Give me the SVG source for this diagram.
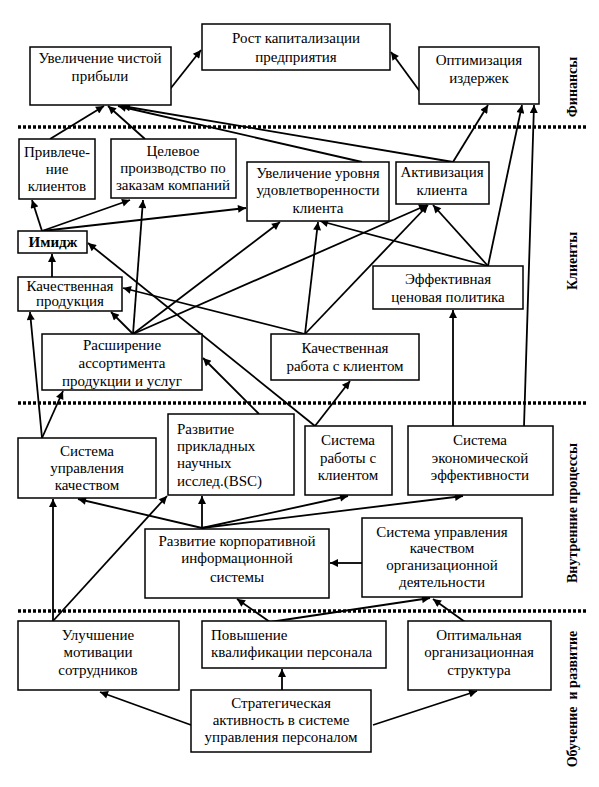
<svg xmlns="http://www.w3.org/2000/svg" width="599" height="787" viewBox="0 0 599 787">
<style>
.b{fill:#fff;stroke:#000;stroke-width:1.5}
.t{font-family:"Liberation Serif","Times New Roman",serif;font-size:15px;fill:#000;text-anchor:middle}
.l{text-anchor:start}
.side{font-family:"Liberation Serif","Times New Roman",serif;font-size:14px;font-weight:bold;fill:#000;text-anchor:middle}
.c line{stroke:#000;stroke-width:1.8;marker-end:url(#a)}
.c line.n{marker-end:none}
.d{stroke:#000;stroke-width:3.5;stroke-dasharray:3,2}
</style>
<defs>
<marker id="a" viewBox="0 0 10 10" refX="10" refY="5" markerWidth="10" markerHeight="8" orient="auto" markerUnits="userSpaceOnUse"><path d="M0,0 L10,5 L0,10 z" fill="#000"/></marker>
</defs>
<rect width="599" height="787" fill="#fff"/>
<g id="separators">
<line class="d" x1="18" y1="127" x2="588" y2="127"/>
<line class="d" x1="18" y1="403" x2="588" y2="403"/>
<line class="d" x1="18" y1="611" x2="588" y2="611"/>
</g>
<g id="labels">
<text class="side" transform="translate(577,87) rotate(-90)">Финансы</text>
<text class="side" transform="translate(577,261) rotate(-90)">Клиенты</text>
<text class="side" transform="translate(577,513) rotate(-90)">Внутренние процессы</text>
<text class="side" transform="translate(577,699) rotate(-90)" xml:space="preserve">Обучение  и развитие</text>
</g>
<g id="connectors" class="c">
<line x1="167" y1="93" x2="201" y2="50"/>
<line x1="421" y1="93" x2="391" y2="52"/>
<line x1="50" y1="139" x2="104" y2="106"/>
<line x1="145" y1="139" x2="108" y2="106"/>
<line x1="362" y1="162" x2="118" y2="106"/>
<line x1="453" y1="162" x2="122" y2="106"/>
<line x1="453" y1="162" x2="488" y2="105"/>
<line x1="488" y1="266" x2="522" y2="105"/>
<line x1="524" y1="426" x2="534" y2="105"/>
<line x1="42" y1="231" x2="32" y2="200"/>
<line x1="42" y1="231" x2="130" y2="200"/>
<line x1="42" y1="231" x2="246" y2="208"/>
<line x1="52" y1="277" x2="52" y2="254"/>
<line x1="133" y1="334" x2="111" y2="312"/>
<line x1="133" y1="334" x2="143" y2="200"/>
<line x1="133" y1="334" x2="280" y2="222"/>
<line x1="133" y1="334" x2="427" y2="205"/>
<line x1="305" y1="334" x2="123" y2="288"/>
<line x1="305" y1="334" x2="318" y2="222"/>
<line x1="305" y1="334" x2="428" y2="205"/>
<line x1="488" y1="266" x2="320" y2="221"/>
<line x1="488" y1="266" x2="433" y2="205"/>
<line x1="453" y1="426" x2="453" y2="310"/>
<line x1="315" y1="426" x2="88" y2="243"/>
<line x1="315" y1="426" x2="350" y2="381"/>
<line x1="259" y1="414" x2="203" y2="358"/>
<line x1="42" y1="438" x2="30" y2="312"/>
<line x1="42" y1="438" x2="63" y2="391"/>
<line x1="202" y1="528" x2="78" y2="499"/>
<line x1="202" y1="528" x2="202" y2="496"/>
<line x1="202" y1="528" x2="348" y2="496"/>
<line x1="202" y1="528" x2="463" y2="496"/>
<line x1="53" y1="621" x2="53" y2="499"/>
<line x1="53" y1="621" x2="167" y2="496"/>
<line x1="362" y1="563" x2="330" y2="563"/>
<line x1="270" y1="622" x2="237" y2="599"/>
<line x1="270" y1="622" x2="430" y2="598"/>
<line x1="465" y1="622" x2="433" y2="599"/>
<line x1="191" y1="725" x2="100" y2="692"/>
<line x1="282" y1="690" x2="282" y2="669"/>
<line x1="373" y1="725" x2="477" y2="691"/>
</g>
<g id="n_rost"><rect class="b" x="202" y="24" width="188" height="46"/><text class="t" x="296"><tspan x="296" y="43">Рост капитализации</tspan><tspan x="296" y="62">предприятия</tspan></text></g>
<g id="n_pribyl"><rect class="b" x="30" y="47" width="141" height="58"/><text class="t"><tspan x="100" y="63">Увеличение чистой</tspan><tspan x="100" y="81">прибыли</tspan></text></g>
<g id="n_izderzh"><rect class="b" x="419" y="47" width="120" height="57"/><text class="t"><tspan x="479" y="65">Оптимизация</tspan><tspan x="479" y="83">издержек</tspan></text></g>
<g id="n_privl"><rect class="b" x="19" y="139" width="76" height="60"/><text class="t"><tspan x="57" y="157">Привлече-</tspan><tspan x="57" y="174">ние</tspan><tspan x="57" y="191">клиентов</tspan></text></g>
<g id="n_celevoe"><rect class="b" x="111" y="139" width="125" height="59"/><text class="t"><tspan x="173" y="156">Целевое</tspan><tspan x="173" y="173">производство по</tspan><tspan x="173" y="190">заказам компаний</tspan></text></g>
<g id="n_udovl"><rect class="b" x="247" y="162" width="142" height="59"/><text class="t"><tspan x="318" y="178">Увеличение уровня</tspan><tspan x="318" y="195">удовлетворенности</tspan><tspan x="318" y="213">клиента</tspan></text></g>
<g id="n_aktiv"><rect class="b" x="396" y="162" width="93" height="42"/><text class="t"><tspan x="442" y="177">Активизация</tspan><tspan x="442" y="195">клиента</tspan></text></g>
<g id="n_imidzh"><rect class="b" x="18" y="231" width="69" height="22"/><text class="t" x="53" y="247" font-weight="bold">Имидж</text></g>
<g id="n_kachprod"><rect class="b" x="18" y="277" width="104" height="34"/><text class="t"><tspan x="70" y="291">Качественная</tspan><tspan x="70" y="306">продукция</tspan></text></g>
<g id="n_cenpol"><rect class="b" x="373" y="266" width="150" height="43"/><text class="t"><tspan x="448" y="284">Эффективная</tspan><tspan x="448" y="302">ценовая политика</tspan></text></g>
<g id="n_rassh"><rect class="b" x="42" y="334" width="160" height="56"/><text class="t"><tspan x="122" y="350">Расширение</tspan><tspan x="122" y="368">ассортимента</tspan><tspan x="122" y="386">продукции и услуг</tspan></text></g>
<g id="n_kachrab"><rect class="b" x="271" y="334" width="148" height="46"/><text class="t"><tspan x="345" y="353">Качественная</tspan><tspan x="345" y="371">работа с клиентом</tspan></text></g>
<g id="n_sukach"><rect class="b" x="18" y="438" width="138" height="60"/><text class="t"><tspan x="87" y="456">Система</tspan><tspan x="87" y="473">управления</tspan><tspan x="87" y="490">качеством</tspan></text></g>
<g id="n_razvpr"><rect class="b" x="168" y="414" width="126" height="81"/><text class="t l"><tspan x="177" y="434">Развитие</tspan><tspan x="177" y="451">прикладных</tspan><tspan x="177" y="468">научных</tspan><tspan x="177" y="486">исслед.(BSC)</tspan></text></g>
<g id="n_sisrab"><rect class="b" x="305" y="426" width="87" height="69"/><text class="t"><tspan x="348" y="445">Система</tspan><tspan x="348" y="463">работы с</tspan><tspan x="348" y="480">клиентом</tspan></text></g>
<g id="n_ekon"><rect class="b" x="408" y="426" width="145" height="69"/><text class="t"><tspan x="480" y="445">Система</tspan><tspan x="480" y="463">экономической</tspan><tspan x="480" y="480">эффективности</tspan></text></g>
<g id="n_korp"><rect class="b" x="145" y="529" width="184" height="69"/><text class="t"><tspan x="237" y="546">Развитие корпоративной</tspan><tspan x="237" y="563">информационной</tspan><tspan x="237" y="582">системы</tspan></text></g>
<g id="n_suorg"><rect class="b" x="362" y="518" width="160" height="79"/><text class="t"><tspan x="442" y="537">Система управления</tspan><tspan x="442" y="553">качеством</tspan><tspan x="442" y="570">организационной</tspan><tspan x="442" y="587">деятельности</tspan></text></g>
<g id="n_motiv"><rect class="b" x="18" y="621" width="161" height="69"/><text class="t"><tspan x="98" y="640">Улучшение</tspan><tspan x="98" y="657">мотивации</tspan><tspan x="98" y="675">сотрудников</tspan></text></g>
<g id="n_kvalif"><rect class="b" x="202" y="621" width="184" height="47"/><text class="t l"><tspan x="211" y="640">Повышение</tspan><tspan x="211" y="657">квалификации персонала</tspan></text></g>
<g id="n_struct"><rect class="b" x="408" y="621" width="143" height="69"/><text class="t"><tspan x="479" y="640">Оптимальная</tspan><tspan x="479" y="657">организационная</tspan><tspan x="479" y="675">структура</tspan></text></g>
<g id="n_strat"><rect class="b" x="191" y="690" width="180" height="62"/><text class="t"><tspan x="281" y="708">Стратегическая</tspan><tspan x="281" y="725">активность в системе</tspan><tspan x="281" y="742">управления персоналом</tspan></text></g>
</svg>
